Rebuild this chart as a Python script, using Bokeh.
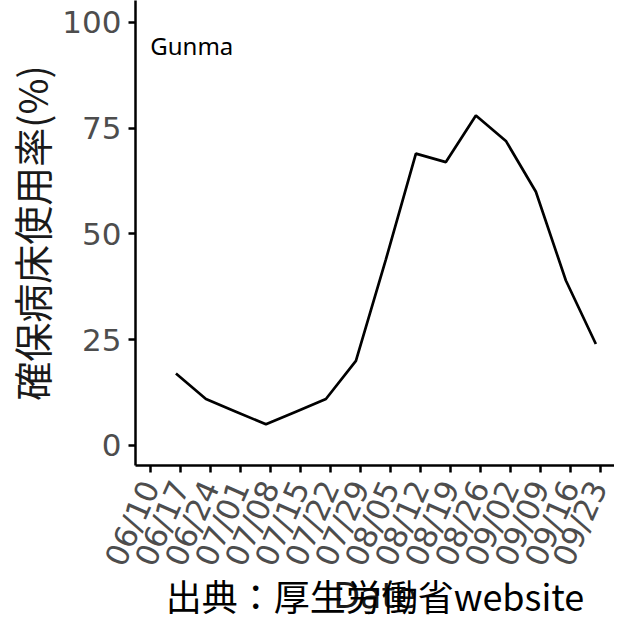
import math
from datetime import datetime, timedelta
from bokeh.plotting import figure
from bokeh.models import Range1d, FixedTicker, Label, ColumnDataSource, DatetimeAxis
from bokeh.embed import file_html
from bokeh.resources import INLINE

# ---- data ----
dates = ["2021-06-16", "2021-06-23", "2021-06-30", "2021-07-07", "2021-07-14",
         "2021-07-21", "2021-07-28", "2021-08-04", "2021-08-11", "2021-08-18",
         "2021-08-25", "2021-09-01", "2021-09-08", "2021-09-15", "2021-09-22"]
usage = [17, 11, 8, 5, 8, 11, 20, 44, 69, 67, 78, 72, 60, 39, 24]
tick_dates = ["2021-06-10", "2021-06-17", "2021-06-24", "2021-07-01", "2021-07-08",
              "2021-07-15", "2021-07-22", "2021-07-29", "2021-08-05", "2021-08-12",
              "2021-08-19", "2021-08-26", "2021-09-02", "2021-09-09", "2021-09-16",
              "2021-09-23"]
tick_labels = ["06/10", "06/17", "06/24", "07/01", "07/08", "07/15", "07/22", "07/29",
               "08/05", "08/12", "08/19", "08/26", "09/02", "09/09", "09/16", "09/23"]
y_ticks = [0, 25, 50, 75, 100]
prefecture = "Gunma"
y_title = "確保病床使用率(%)"
x_title = "Date"
caption = "出典：厚生労働省website"


def ms(s):
    return datetime.strptime(s, "%Y-%m-%d").timestamp() * 1000.0


xs = [datetime.strptime(d, "%Y-%m-%d") for d in dates]
tick_ms = [ms(t) for t in tick_dates]
first_tick = datetime.strptime(tick_dates[0], "%Y-%m-%d")
last_tick = datetime.strptime(tick_dates[-1], "%Y-%m-%d")

p = figure(frame_width=479, frame_height=465, x_axis_type="datetime",
           output_backend="svg", toolbar_location=None,
           x_range=Range1d(first_tick - timedelta(days=3.44), last_tick + timedelta(days=3.35)),
           y_range=Range1d(-4.73, 105.2),
           min_border_left=129, min_border_right=0, min_border_top=0, min_border_bottom=0)

src = ColumnDataSource(dict(x=xs, y=usage))
p.line("x", "y", source=src, line_color="black", line_width=2.7)

p.add_layout(Label(x=tick_ms[0], y=94.6, text=prefecture, text_font="Noto Sans",
                   text_font_size="24px", text_color="black",
                   text_align="left", text_baseline="middle"))

# grid / frame
p.xgrid.visible = False
p.ygrid.visible = False
p.outline_line_color = None
p.background_fill_color = "white"
p.border_fill_color = "white"

# y axis
ya = p.yaxis[0]
ya.ticker = FixedTicker(ticks=y_ticks)
ya.axis_line_width = 2.5
ya.axis_line_color = "black"
ya.major_tick_line_width = 2.5
ya.major_tick_line_color = "black"
ya.major_tick_in = 0
ya.major_tick_out = 7
ya.minor_tick_line_color = None
ya.major_label_text_font = "DejaVu Sans"
ya.major_label_text_font_size = "31px"
ya.major_label_text_color = "#4d4d4d"
ya.major_label_standoff = 7
ya.axis_label = y_title
ya.axis_label_text_font = "Noto Sans CJK JP"
ya.axis_label_text_font_size = "39px"
ya.axis_label_text_font_style = "normal"
ya.axis_label_text_color = "#1a1a1a"
ya.axis_label_standoff = 0

# x axis
xa = p.xaxis[0]
xa.ticker = FixedTicker(ticks=tick_ms)
xa.major_label_overrides = {t: l for t, l in zip(tick_ms, tick_labels)}
xa.axis_line_width = 2.5
xa.axis_line_color = "black"
xa.major_tick_line_width = 2.5
xa.major_tick_line_color = "black"
xa.major_tick_in = 0
xa.major_tick_out = 7
xa.minor_tick_line_color = None
xa.major_label_orientation = math.radians(66)
xa.major_label_text_font = "DejaVu Sans"
xa.major_label_text_font_size = "31px"
xa.major_label_text_color = "#4d4d4d"
xa.major_label_standoff = 10
xa.axis_label = x_title
xa.axis_label_text_font = "DejaVu Sans"
xa.axis_label_text_font_size = "35px"
xa.axis_label_text_font_style = "normal"
xa.axis_label_text_color = "#1a1a1a"
xa.axis_label_standoff = -6

# caption: an extra below axis that carries only a label, pulled up over the x title
cap = DatetimeAxis(ticker=FixedTicker(ticks=[]), axis_line_color=None,
                   major_tick_in=0, major_tick_out=0, minor_tick_in=0, minor_tick_out=0,
                   axis_label=caption, axis_label_standoff=-50,
                   axis_label_text_font="Noto Sans CJK JP", axis_label_text_font_size="36px",
                   axis_label_text_font_style="normal", axis_label_text_color="black")
p.add_layout(cap, "below")

open("out.html", "w").write(file_html(p, INLINE))
